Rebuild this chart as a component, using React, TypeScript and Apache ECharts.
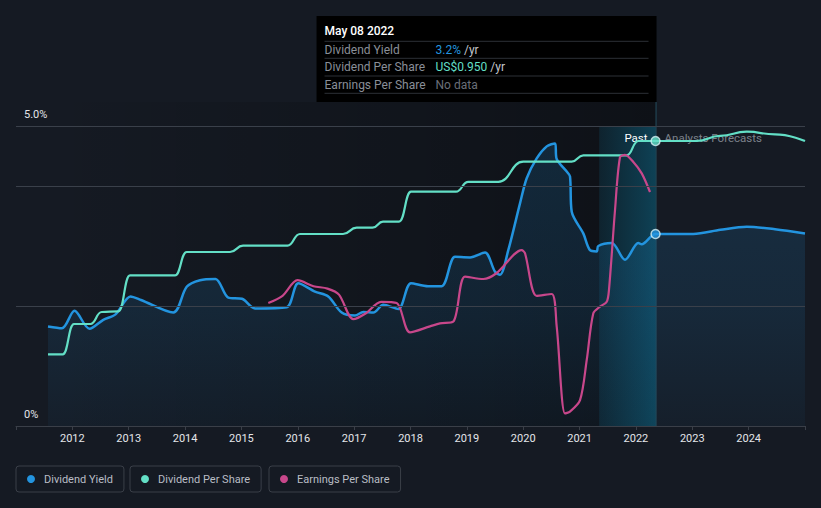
import React, { useEffect, useRef } from 'react';
import * as echarts from 'echarts';

// ---- time frame (decimal years) ----
const X_MIN = 2011;
const X_MAX = 2025;
const NOW = 2022.348; // May 08 2022
const HIGHLIGHT_START = 2021.348;
const DATA_START = 2011.568;

// ---- series values: [decimal year, value] ----
const dividendYield: [number, number][] = [
  [2011.568, 1.66], [2011.816, 1.63], [2012.038, 1.92], [2012.304, 1.62], [2012.549, 1.77],
  [2012.766, 1.86], [2013.032, 2.16], [2013.218, 2.1], [2013.791, 1.89], [2014.029, 2.32],
  [2014.265, 2.43], [2014.54, 2.45], [2014.767, 2.14], [2015.01, 2.12], [2015.241, 1.96],
  [2015.803, 1.98], [2016.009, 2.38], [2016.305, 2.24], [2016.541, 2.16], [2016.779, 1.89],
  [2017.015, 1.84], [2017.163, 1.9], [2017.34, 1.89], [2017.517, 2.02], [2017.784, 1.95],
  [2018.009, 2.38], [2018.311, 2.33], [2018.554, 2.33], [2018.79, 2.82], [2019.056, 2.81],
  [2019.322, 2.89], [2019.5, 2.57], [2019.588, 2.52], [2019.735, 2.93], [2019.943, 3.71],
  [2020.062, 4.13], [2020.239, 4.46], [2020.417, 4.66], [2020.564, 4.71], [2020.594, 4.45],
  [2020.772, 4.24], [2020.83, 4.16], [2020.861, 3.57], [2021.066, 3.21], [2021.185, 2.93],
  [2021.304, 2.91], [2021.332, 3.0], [2021.57, 3.05], [2021.806, 2.77], [2022.042, 3.05],
  [2022.102, 3.03], [2022.348, 3.2],
  // analysts forecasts
  [2023.018, 3.2], [2023.5, 3.27], [2023.966, 3.32], [2024.468, 3.28], [2025.0, 3.21],
];

const dividendPerShare: [number, number][] = [
  [2011.568, 0.239], [2011.829, 0.239], [2012.029, 0.34], [2012.322, 0.34], [2012.521, 0.38],
  [2012.815, 0.382], [2013.023, 0.502], [2013.821, 0.502], [2014.029, 0.58], [2014.797, 0.58],
  [2015.028, 0.601], [2015.818, 0.601], [2016.039, 0.64], [2016.802, 0.64], [2017.045, 0.661],
  [2017.326, 0.661], [2017.512, 0.681], [2017.796, 0.681], [2018.009, 0.781], [2018.807, 0.781],
  [2019.026, 0.814], [2019.558, 0.814], [2020.001, 0.881], [2020.86, 0.881], [2021.066, 0.902],
  [2021.836, 0.902], [2022.042, 0.95], [2022.348, 0.95],
  // analysts forecasts
  [2023.078, 0.95], [2023.492, 0.967], [2023.966, 0.981], [2024.468, 0.972], [2025.0, 0.95],
];

const earningsPerShare: [number, number][] = [
  [2015.477, 2.05], [2015.729, 2.17], [2015.995, 2.43], [2016.279, 2.33], [2016.527, 2.29],
  [2016.731, 2.19], [2016.985, 1.78], [2017.21, 1.88], [2017.477, 2.07], [2017.755, 2.05],
  [2017.991, 1.56], [2018.346, 1.66], [2018.523, 1.71], [2018.76, 1.74], [2018.967, 2.49],
  [2019.292, 2.45], [2019.53, 2.55], [2019.973, 2.93], [2020.031, 2.88], [2020.239, 2.17],
  [2020.505, 2.2], [2020.594, 1.66], [2020.741, 0.21], [2020.83, 0.24], [2021.008, 0.43],
  [2021.127, 1.1], [2021.244, 1.88], [2021.363, 1.99], [2021.482, 2.07], [2021.522, 2.27],
  [2021.629, 3.6], [2021.717, 4.48], [2021.806, 4.52], [2021.954, 4.4], [2022.103, 4.21],
  [2022.25, 3.9],
];

const yieldTickLabels: Record<number, string> = { 0: '0%', 5: '5.0%' };
const gridLineValues = [5, 4, 2];

const tooltipTitle = 'May 08 2022';
const tooltipLabels = ['Dividend Yield', 'Dividend Per Share', 'Earnings Per Share'];
const tooltipValues = ['3.2%', 'US$0.950', 'No data'];

const BG = '#151a23';
const BLUE = '#2394df';
const TEAL = '#63dfc6';
const PINK = '#c8478b';
const FONT = 'Roboto, sans-serif';

export default function App() {
  const ref = useRef<HTMLDivElement>(null);

  useEffect(() => {
    document.body.style.margin = '0';
    document.body.style.background = BG;
    const chart = echarts.init(ref.current!, null, { renderer: 'svg' });

    const legendCommon = {
      top: 466,
      orient: 'horizontal',
      icon: 'circle',
      itemWidth: 8,
      itemHeight: 8,
      itemGap: 0,
      padding: [6, 11, 6, 11],
      borderColor: '#3a3f48',
      borderWidth: 1,
      borderRadius: 3,
      selectedMode: false,
      textStyle: { color: '#b9bdc5', fontSize: 11, fontFamily: FONT, padding: [0, 0, 0, 4], lineHeight: 14 },
    };

    const option: any = {
      animation: false,
      backgroundColor: BG,
      textStyle: { fontFamily: FONT },
      grid: { left: 16, right: 16, top: 126, bottom: 82, containLabel: false },
      legend: [
        { ...legendCommon, left: 16, data: ['Dividend Yield'] },
        { ...legendCommon, left: 130, data: ['Dividend Per Share'] },
        { ...legendCommon, left: 269, data: ['Earnings Per Share'] },
      ],
      xAxis: {
        type: 'value',
        min: X_MIN,
        max: X_MAX,
        interval: 1,
        axisLine: { show: true, lineStyle: { color: '#3a3f48', width: 1 } },
        axisTick: { show: true, length: 4, lineStyle: { color: '#3a3f48' } },
        axisLabel: {
          color: '#e4e6ea',
          fontSize: 11,
          margin: 7,
          formatter: (v: number) => (v > X_MIN && v < X_MAX ? String(v) : ''),
        },
        splitLine: { show: false },
      },
      yAxis: [
        {
          type: 'value',
          min: 0,
          max: 5,
          interval: 1,
          axisLine: { show: false },
          axisTick: { show: false },
          splitLine: { show: false },
          axisLabel: {
            inside: true,
            margin: 8,
            align: 'left',
            verticalAlign: 'bottom',
            padding: [0, 0, 6, 0],
            color: '#e4e6ea',
            fontSize: 11,
            formatter: (v: number) => yieldTickLabels[v] ?? '',
          },
        },
        { type: 'value', min: 0, max: 1, show: false },
        { type: 'value', min: 0, max: 5, show: false },
      ],
      series: [
        {
          name: 'Dividend Yield',
          type: 'line',
          yAxisIndex: 0,
          data: dividendYield,
          color: BLUE,
          symbol: 'none',
          smooth: 0.3,
          lineStyle: { width: 2.5, color: BLUE },
          areaStyle: {
            color: new echarts.graphic.LinearGradient(0, 0, 0, 1, [
              { offset: 0, color: 'rgba(35,148,223,0.24)' },
              { offset: 0.6, color: 'rgba(35,148,223,0.17)' },
              { offset: 1, color: 'rgba(35,148,223,0.06)' },
            ]),
          },
          markLine: {
            silent: true,
            symbol: 'none',
            label: { show: false },
            lineStyle: { color: '#3a404a', width: 1, type: 'solid' },
            data: gridLineValues.map((v) => ({ yAxis: v })),
          },
          z: 2,
        },
        {
          name: 'Dividend Per Share',
          type: 'line',
          yAxisIndex: 1,
          data: dividendPerShare,
          color: TEAL,
          symbol: 'none',
          smooth: 0.5,
          smoothMonotone: 'x',
          lineStyle: { width: 2.2, color: TEAL },
          z: 3,
        },
        {
          name: 'Earnings Per Share',
          type: 'line',
          yAxisIndex: 2,
          data: earningsPerShare,
          color: PINK,
          symbol: 'none',
          smooth: 0.3,
          lineStyle: { width: 2.2, color: PINK },
          z: 4,
        },
        {
          name: 'yieldNow',
          type: 'scatter',
          yAxisIndex: 0,
          data: dividendYield.filter((d) => d[0] === NOW),
          symbolSize: 9,
          itemStyle: { color: BLUE, borderColor: '#d5eef3', borderWidth: 1.5 },
          z: 6,
        },
        {
          name: 'dpsNow',
          type: 'scatter',
          yAxisIndex: 1,
          data: dividendPerShare.filter((d) => d[0] === NOW),
          symbolSize: 9,
          itemStyle: { color: TEAL, borderColor: '#d5eef3', borderWidth: 1.5 },
          z: 6,
        },
      ],
    };

    chart.setOption(option);

    const px = (t: number) => chart.convertToPixel({ xAxisIndex: 0 }, t) as number;
    const xNow = px(NOW);
    const xStart = px(DATA_START);
    const xHl = px(HIGHLIGHT_START);
    const yBottom = chart.convertToPixel({ yAxisIndex: 0 }, 0) as number;
    const yTop = chart.convertToPixel({ yAxisIndex: 0 }, 5) as number;

    const tipW = 340;
    const tipL = xNow + 1 - tipW;
    const tipTop = 16;
    const tipH = 86;
    const rowY = [49.8, 67.2, 84.7];
    const sepY = [41.3, 58.3, 76, 93.3];

    const graphics: any[] = [
      // darker "past" background
      {
        type: 'rect',
        z: -10,
        silent: true,
        shape: { x: xStart, y: tipTop + tipH, width: xNow - xStart, height: yBottom - (tipTop + tipH) },
        style: {
          fill: new echarts.graphic.LinearGradient(0, 0, 1, 0, [
            { offset: 0, color: 'rgba(0,0,0,0)' },
            { offset: 1, color: 'rgba(0,0,0,0.34)' },
          ]),
        },
      },
      // last-year highlight
      {
        type: 'rect',
        z: -5,
        silent: true,
        shape: { x: xHl, y: yTop, width: xNow - xHl, height: yBottom - yTop },
        style: {
          fill: new echarts.graphic.LinearGradient(0, 0, 1, 0, [
            { offset: 0, color: 'rgba(14,95,125,0.22)' },
            { offset: 1, color: 'rgba(14,100,130,0.58)' },
          ]),
        },
      },
      // cursor line
      {
        type: 'line',
        z: -4,
        silent: true,
        shape: { x1: xNow + 0.5, y1: tipTop + tipH, x2: xNow + 0.5, y2: yBottom },
        style: { stroke: 'rgba(60,170,200,0.35)', lineWidth: 1 },
      },
      {
        type: 'text',
        z: -3,
        x: xNow - 8,
        y: yTop + 12,
        style: { text: 'Past', fill: '#ffffff', fontSize: 11.5, fontFamily: FONT, align: 'right', verticalAlign: 'middle' },
      },
      {
        type: 'text',
        z: -3,
        x: xNow + 9,
        y: yTop + 12,
        style: { text: 'Analysts Forecasts', fill: '#7c818a', fontSize: 11.5, fontFamily: FONT, align: 'left', verticalAlign: 'middle' },
      },
      // tooltip
      {
        type: 'rect',
        z: 100,
        shape: { x: tipL, y: tipTop, width: tipW, height: tipH },
        style: { fill: '#000000' },
      },
      {
        type: 'text',
        z: 101,
        x: tipL + 8,
        y: 31,
        style: { text: tooltipTitle, fill: '#ffffff', fontSize: 12, fontWeight: 500, fontFamily: FONT, verticalAlign: 'middle' },
      },
      ...sepY.map((y) => ({
        type: 'line',
        z: 101,
        shape: { x1: tipL + 8, y1: y, x2: tipL + tipW - 8, y2: y },
        style: { stroke: '#2c3036', lineWidth: 1 },
      })),
      ...tooltipLabels.map((label, i) => ({
        type: 'text',
        z: 101,
        x: tipL + 8,
        y: rowY[i],
        style: { text: label, fill: '#8a8f98', fontSize: 12, fontFamily: FONT, verticalAlign: 'middle' },
      })),
      {
        type: 'text',
        z: 101,
        x: tipL + 119,
        y: rowY[0],
        style: {
          text: `{a|${tooltipValues[0]}} {b|/yr}`,
          fontSize: 12,
          fontFamily: FONT,
          verticalAlign: 'middle',
          rich: { a: { fill: BLUE, fontSize: 12, fontFamily: FONT }, b: { fill: '#c3c6cc', fontSize: 12, fontFamily: FONT } },
        },
      },
      {
        type: 'text',
        z: 101,
        x: tipL + 119,
        y: rowY[1],
        style: {
          text: `{a|${tooltipValues[1]}} {b|/yr}`,
          fontSize: 12,
          fontFamily: FONT,
          verticalAlign: 'middle',
          rich: { a: { fill: TEAL, fontSize: 12, fontFamily: FONT }, b: { fill: '#c3c6cc', fontSize: 12, fontFamily: FONT } },
        },
      },
      {
        type: 'text',
        z: 101,
        x: tipL + 119,
        y: rowY[2],
        style: { text: tooltipValues[2], fill: '#6a6f78', fontSize: 12, fontFamily: FONT, verticalAlign: 'middle' },
      },
    ];

    chart.setOption({ graphic: graphics });

    return () => chart.dispose();
  }, []);

  return <div ref={ref} style={{ width: 821, height: 508 }} />;
}
